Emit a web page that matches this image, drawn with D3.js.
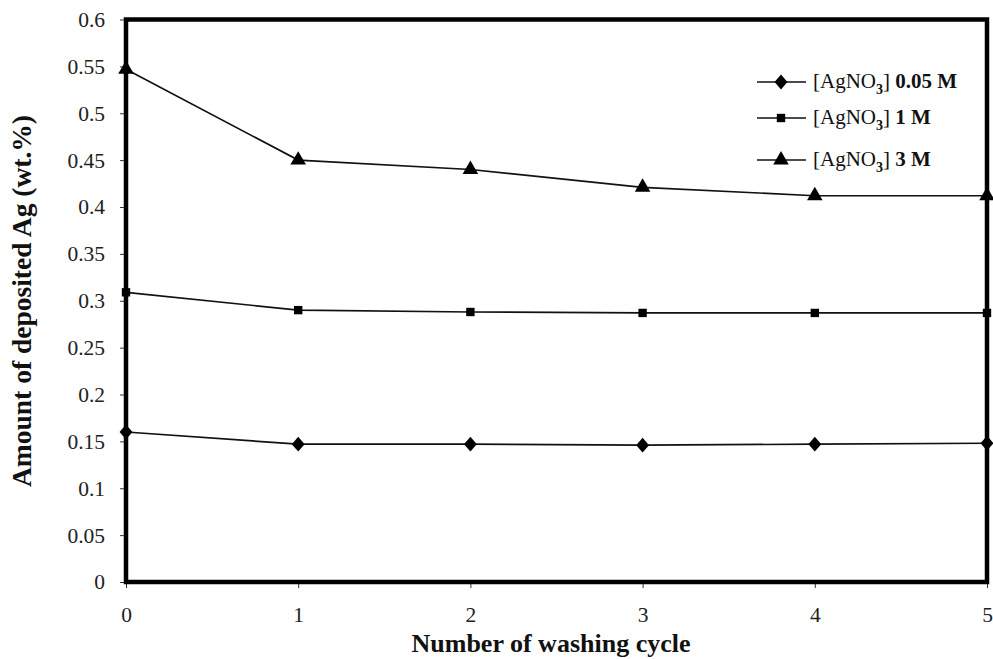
<!DOCTYPE html>
<html>
<head>
<meta charset="utf-8">
<script src="https://cdn.jsdelivr.net/npm/d3@7"></script>
<style>
  html, body { margin: 0; padding: 0; background: #fff; }
  svg { display: block; }
</style>
</head>
<body>
<svg id="chart" width="993" height="659"></svg>
<script>
// Washing cycles on the x axis
const cycles = [0, 1, 2, 3, 4, 5];
// Deposited Ag (wt.%) for each AgNO3 concentration
const ag005M = [0.160, 0.147, 0.147, 0.146, 0.147, 0.148];
const ag1M   = [0.309, 0.290, 0.288, 0.287, 0.287, 0.287];
const ag3M   = [0.547, 0.450, 0.440, 0.421, 0.412, 0.412];
const seriesNames = ["0.05 M", "1 M", "3 M"];
const yTicks = [0, 0.05, 0.1, 0.15, 0.2, 0.25, 0.3, 0.35, 0.4, 0.45, 0.5, 0.55, 0.6];

// Squat diamond marker (wider than d3's built-in one)
const squatDiamond = {
  draw(ctx, size) {
    const w = Math.sqrt(size / 1.15) / 2, h = w * 1.15;
    ctx.moveTo(0, -h); ctx.lineTo(w, 0); ctx.lineTo(0, h); ctx.lineTo(-w, 0); ctx.closePath();
  }
};

const series = [
  { name: seriesNames[0], values: ag005M, symbol: squatDiamond,      size: 190 },
  { name: seriesNames[1], values: ag1M,   symbol: d3.symbolSquare,   size: 70 },
  { name: seriesNames[2], values: ag3M,   symbol: d3.symbolTriangle, size: 105 }
];

const svg = d3.select("#chart");
const L = 126, R = 987, T = 19.5, B = 582;
const font = "'Liberation Serif', 'Times New Roman', serif";

const x = d3.scaleLinear().domain([0, 5]).range([L, R]);
const y = d3.scaleLinear().domain([0, 0.6]).range([B, T]);

// Y axis ticks and labels
const yAxis = svg.append("g")
  .attr("transform", `translate(${L},0)`)
  .call(d3.axisLeft(y).tickValues(yTicks).tickSize(6).tickPadding(15)
    .tickFormat(d => d3.format("~g")(+d.toFixed(2))));
yAxis.select(".domain").remove();
yAxis.selectAll("line").attr("stroke", "#333").attr("stroke-width", 1);
yAxis.selectAll("text").attr("font-family", font).attr("font-size", 21.5).attr("fill", "#222");

// X axis ticks and labels
const xAxis = svg.append("g")
  .attr("transform", `translate(0,${B})`)
  .call(d3.axisBottom(x).tickValues(cycles).tickSize(6).tickPadding(19).tickFormat(d3.format("d")));
xAxis.select(".domain").remove();
xAxis.selectAll("line").attr("stroke", "#333").attr("stroke-width", 1);
xAxis.selectAll("text").attr("font-family", font).attr("font-size", 21.5).attr("fill", "#222");

// Lines and markers
const line = d3.line().x((d, i) => x(cycles[i])).y(d => y(d));
series.forEach(s => {
  svg.append("path")
    .attr("d", line(s.values))
    .attr("fill", "none")
    .attr("stroke", "#111")
    .attr("stroke-width", 1.7);
  svg.append("g").selectAll("path")
    .data(s.values)
    .join("path")
    .attr("transform", (d, i) => `translate(${x(cycles[i])},${y(d)})`)
    .attr("d", d3.symbol().type(s.symbol).size(s.size))
    .attr("fill", "#000");
});

// Plot frame
svg.append("rect")
  .attr("x", L).attr("y", T)
  .attr("width", R - L).attr("height", B - T)
  .attr("fill", "none")
  .attr("stroke", "#000")
  .attr("stroke-width", 4.5);

// Legend
const legendY = [82, 118, 160];
series.forEach((s, i) => {
  const g = svg.append("g").attr("transform", `translate(0,${legendY[i]})`);
  g.append("line").attr("x1", 757).attr("x2", 806).attr("y1", 0).attr("y2", 0)
    .attr("stroke", "#111").attr("stroke-width", 1.7);
  g.append("path").attr("transform", "translate(781,0)")
    .attr("d", d3.symbol().type(s.symbol).size(s.size)).attr("fill", "#000");
  const t = g.append("text").attr("x", 813).attr("y", 6)
    .attr("font-family", font).attr("font-size", 21).attr("fill", "#111");
  t.append("tspan").text("[AgNO");
  t.append("tspan").attr("font-size", 14).attr("dy", 6).attr("font-weight", "bold").text("3");
  t.append("tspan").attr("dy", -6).text("] ");
  t.append("tspan").attr("font-weight", "bold").text(s.name);
});

// Axis titles
svg.append("text")
  .attr("x", 551).attr("y", 652)
  .attr("text-anchor", "middle")
  .attr("font-family", font).attr("font-weight", "bold").attr("font-size", 26)
  .attr("fill", "#111")
  .text("Number of washing cycle");

svg.append("text")
  .attr("transform", "translate(31,301) rotate(-90)")
  .attr("text-anchor", "middle")
  .attr("font-family", font).attr("font-weight", "bold").attr("font-size", 27.5)
  .attr("fill", "#111")
  .text("Amount of deposited Ag (wt.%)");
</script>
</body>
</html>
